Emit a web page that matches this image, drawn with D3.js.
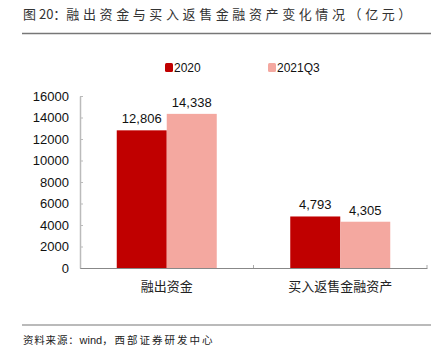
<!DOCTYPE html>
<html><head><meta charset="utf-8">
<script src="https://cdn.jsdelivr.net/npm/d3@7"></script>
<style>body{margin:0;background:#fff;}svg{display:block;font-family:"Liberation Sans","Noto Sans CJK SC",sans-serif;}</style>
</head><body>
<svg id="c" width="431" height="355"></svg>
<script>
const categories = ["融出资金", "买入返售金融资产"];
const seriesNames = ["2020", "2021Q3"];
const values2020 = [12806, 4793];
const values2021Q3 = [14338, 4305];
const yTicks = [0, 2000, 4000, 6000, 8000, 10000, 12000, 14000, 16000];
const colors = ["#C00000", "#F4A8A0"];

const svg = d3.select("#c");
const cjk = '"Noto Sans CJK SC",sans-serif';

// Title
const title = svg.append("text").attr("x", 23).attr("y", 19).attr("font-size", 13).attr("fill", "#333")
  .style("font-family", cjk);
title.append("tspan").text("图 20：");
title.append("tspan").attr("letter-spacing", 3.6).text("融出资金与买入返售金融资产变化情况（亿元）");
svg.append("line").attr("x1", 22).attr("x2", 431).attr("y1", 33.5).attr("y2", 33.5)
  .attr("stroke", "#777").attr("stroke-width", 1.5);

// Scales
const x = d3.scaleBand().domain(categories).range([80, 427]).paddingInner(0).paddingOuter(0);
const y = d3.scaleLinear().domain([0, 16000]).range([268, 96]);
const barW = 50;

// Y axis
const yAxis = d3.axisLeft(y).tickValues(yTicks).tickSize(0).tickPadding(11).tickFormat(d3.format("d"));
const gy = svg.append("g").attr("transform", "translate(80,0)").call(yAxis);
gy.select(".domain").attr("stroke", "#bbb").attr("stroke-width", 1.5);
gy.selectAll("text").attr("font-size", 13).attr("fill", "#111").style("font-family", '"Liberation Sans",sans-serif');
gy.selectAll(".tick").append("line").attr("x1", 0).attr("x2", 3).attr("stroke", "#bbb");

// Bars
const series = [values2020, values2021Q3];
series.forEach((vals, si) => {
  svg.append("g").selectAll("rect").data(categories).join("rect")
    .attr("x", (d) => x(d) + x.bandwidth() / 2 - barW + si * barW)
    .attr("y", (d, i) => y(vals[i]))
    .attr("width", barW)
    .attr("height", (d, i) => y(0) - y(vals[i]))
    .attr("fill", colors[si]);
  svg.append("g").selectAll("text").data(categories).join("text")
    .attr("x", (d) => x(d) + x.bandwidth() / 2 - barW / 2 + si * barW)
    .attr("y", (d, i) => y(vals[i]) - 7)
    .attr("text-anchor", "middle").attr("font-size", 13).attr("fill", "#111")
    .text((d, i) => d3.format(",")(vals[i]));
});

// X axis
const xAxis = d3.axisBottom(x).tickSize(0).tickPadding(14);
const gx = svg.append("g").attr("transform", "translate(0,268)").call(xAxis);
gx.select(".domain").attr("stroke", "#888").attr("stroke-width", 1.2);
gx.selectAll("text").attr("font-size", 13).attr("fill", "#222").style("font-family", cjk);
[x.range()[0] + x.bandwidth(), x.range()[1]].forEach(px => {
  svg.append("line").attr("x1", px).attr("x2", px).attr("y1", 265).attr("y2", 268).attr("stroke", "#aaa");
});

// Legend
const legX = [165, 268];
seriesNames.forEach((n, i) => {
  svg.append("rect").attr("x", legX[i]).attr("y", 63).attr("width", 8).attr("height", 9).attr("rx", 1.5).attr("fill", colors[i]);
  svg.append("text").attr("x", legX[i] + 9).attr("y", 72).attr("font-size", 12).attr("fill", "#111").text(n);
});

// Footer
svg.append("line").attr("x1", 22).attr("x2", 431).attr("y1", 325).attr("y2", 325).attr("stroke", "#777").attr("stroke-width", 1.2);
const foot = svg.append("text").attr("x", 23).attr("y", 344).attr("font-size", 10.5).attr("fill", "#222")
  .style("font-family", cjk);
foot.append("tspan").attr("letter-spacing", 0.8).text("资料来源：");
foot.append("tspan").style("font-family", '"Liberation Sans",sans-serif').attr("font-size", 11).text("wind");
foot.append("tspan").attr("letter-spacing", 2).text("，西部证券研发中心");
</script>
</body></html>
